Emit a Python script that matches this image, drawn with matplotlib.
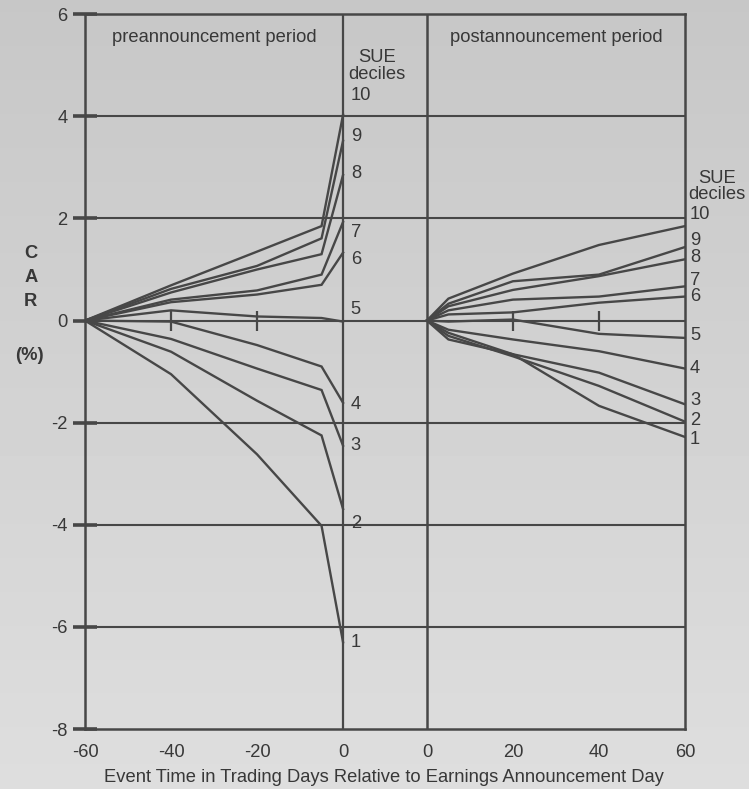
import numpy as np
import matplotlib
matplotlib.use("Agg")
import matplotlib.pyplot as plt

plt.rcParams["font.family"] = ["Liberation Sans", "DejaVu Sans"]
plt.rcParams["axes.unicode_minus"] = False

# --- data --------------------------------------------------------------------
pre_days = [-60, -40, -20, -5, 0]
post_days = [0, 5, 20, 40, 60]
decile_names = ["1", "2", "3", "4", "5", "6", "7", "8", "9", "10"]

# CAR (%) for SUE deciles 1..10, preannouncement window
pre_car = [
    [0, -1.05, -2.62, -4.02, -6.30],
    [0, -0.61, -1.57, -2.25, -3.69],
    [0, -0.36, -0.94, -1.36, -2.45],
    [0, -0.02, -0.48, -0.90, -1.61],
    [0, 0.20, 0.08, 0.05, -0.02],
    [0, 0.36, 0.51, 0.70, 1.33],
    [0, 0.41, 0.59, 0.90, 1.93],
    [0, 0.55, 1.00, 1.30, 2.85],
    [0, 0.62, 1.07, 1.61, 3.52],
    [0, 0.69, 1.35, 1.85, 4.03],
]

# CAR (%) for SUE deciles 1..10, postannouncement window
post_car = [
    [0, -0.37, -0.66, -1.67, -2.28],
    [0, -0.30, -0.70, -1.28, -1.98],
    [0, -0.24, -0.66, -1.02, -1.64],
    [0, -0.18, -0.37, -0.60, -0.94],
    [0, -0.02, 0.02, -0.26, -0.34],
    [0, 0.12, 0.16, 0.35, 0.47],
    [0, 0.20, 0.41, 0.47, 0.67],
    [0, 0.28, 0.60, 0.87, 1.20],
    [0, 0.33, 0.77, 0.90, 1.44],
    [0, 0.43, 0.92, 1.48, 1.85],
]

# where the decile numbers sit (CAR units)
pre_label_y = [-6.3, -3.97, -2.45, -1.64, 0.22, 1.2, 1.73, 2.88, 3.6, 4.4]
post_label_y = [-2.33, -1.95, -1.56, -0.93, -0.29, 0.48, 0.78, 1.24, 1.57, 2.08]

# --- layout ------------------------------------------------------------------
GAP = 19.5          # blank column between the two windows, in day units
LC = "#474747"      # ink colour
TC = "#383838"
FS = 13.2

fig = plt.figure(figsize=(7.49, 7.89), dpi=100)

# scanned-paper grey, a bit lighter towards the bottom
bg = fig.add_axes([0, 0, 1, 1], zorder=-1)
grad = np.linspace(0.78, 0.87, 256).reshape(-1, 1)
bg.imshow(grad, aspect="auto", cmap="gray", vmin=0, vmax=1)
bg.axis("off")

ax = fig.add_axes([0.1135, 0.076, 0.801, 0.906])
ax.set_facecolor("none")

for row in pre_car:
    ax.plot(pre_days, row, color=LC, lw=1.7, solid_joinstyle="miter")
for row in post_car:
    ax.plot(np.array(post_days) + GAP, row, color=LC, lw=1.7, solid_joinstyle="miter")

for v in [-6, -4, -2, 0, 2, 4]:
    ax.axhline(v, color=LC, lw=1.5, zorder=1)
ax.axvline(0, color=LC, lw=1.6)
ax.axvline(GAP, color=LC, lw=1.8)

# small tick marks on the zero line
ax.plot([-40, -20], [0, 0], ls="none", marker="|", ms=14, mew=1.6, color=LC)
ax.plot([GAP + 20, GAP + 40], [0, 0], ls="none", marker="|", ms=14, mew=1.6, color=LC)

ax.set_xlim(-60, GAP + 60)
ax.set_ylim(-8, 6)
ax.set_xticks([-60, -40, -20, 0, GAP, GAP + 20, GAP + 40, GAP + 60])
ax.set_xticklabels(["-60", "-40", "-20", "0", "0", "20", "40", "60"])
ax.set_yticks(range(-8, 7, 2))
ax.tick_params(axis="x", length=0, pad=11, labelsize=FS, labelcolor=TC)
ax.tick_params(axis="y", direction="inout", length=17, width=2.6, color=LC,
               pad=4, labelsize=FS, labelcolor=TC)
for s in ax.spines.values():
    s.set_color(LC)
    s.set_linewidth(1.8)

# panel titles
ax.text(-30, 5.55, "preannouncement period", ha="center", va="center",
        fontsize=FS, color=TC)
ax.text(GAP + 30, 5.55, "postannouncement period", ha="center", va="center",
        fontsize=FS, color=TC)

# decile labels
ax.text(GAP / 2 - 1.8, 4.98, "SUE\ndeciles", ha="center", va="center",
        fontsize=FS, color=TC, linespacing=1.0)
for name, y in zip(decile_names, pre_label_y):
    ax.text(1.8, y, name, ha="left", va="center", fontsize=FS, color=TC)

ax.text(GAP + 67.5, 2.62, "SUE\ndeciles", ha="center", va="center",
        fontsize=FS, color=TC, linespacing=0.9, clip_on=False)
for name, y in zip(decile_names, post_label_y):
    ax.text(GAP + 61.2, y, name, ha="left", va="center", fontsize=FS,
            color=TC, clip_on=False)

# axis titles
fig.text(0.041, 0.648, "C\nA\nR", ha="center", va="center", fontsize=FS,
         fontweight="bold", color=TC, linespacing=1.55)
fig.text(0.039, 0.55, "(%)", ha="center", va="center", fontsize=FS,
         fontweight="bold", color=TC)
fig.text(0.513, 0.014, "Event Time in Trading Days Relative to Earnings Announcement Day",
         ha="center", va="center", fontsize=FS, color=TC)

fig.savefig("out.png", dpi=100)
